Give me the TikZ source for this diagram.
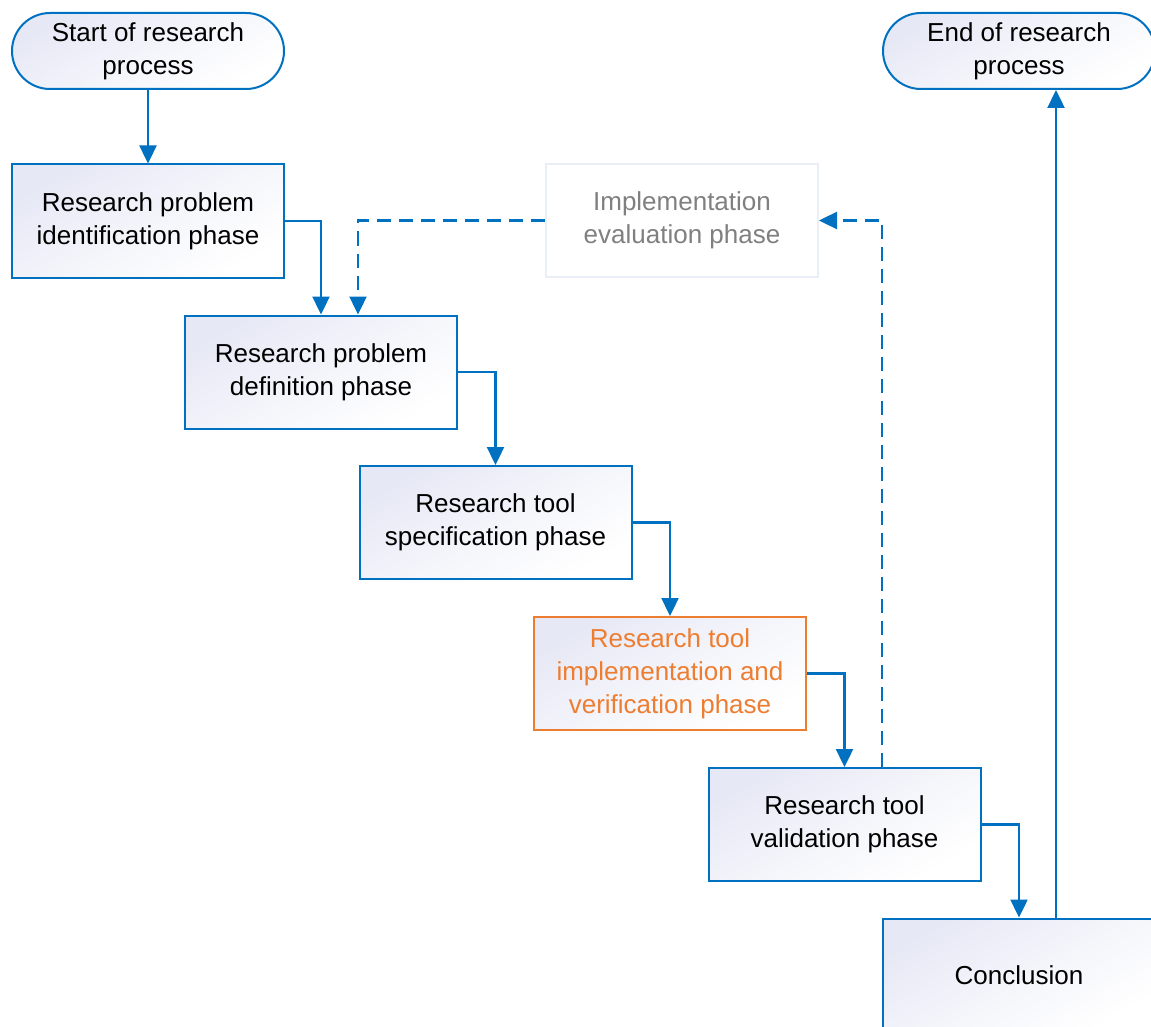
\documentclass[tikz,border=0pt]{standalone}
\usepackage{fontspec}
\setmainfont{Liberation Sans}
\usetikzlibrary{arrows.meta,positioning}
\definecolor{bl}{RGB}{0,112,192}
\definecolor{orng}{RGB}{237,125,49}
\definecolor{lav}{RGB}{230,232,245}
\definecolor{faint}{RGB}{234,239,247}
\definecolor{gtxt}{RGB}{128,128,128}
\begin{document}
\begin{tikzpicture}[x=1pt,y=-1pt,
  plain/.style={line width=2pt, minimum width=272pt, minimum height=113pt, inner sep=0pt,
     align=center, font=\fontsize{26}{33}\selectfont},
  base/.style={plain, draw=bl, top color=lav, bottom color=white, middle color=white!55!lav, shading angle=30},
  term/.style={base, minimum height=76pt, rounded corners=38pt},
  phase/.style={base},
  arr/.style={draw=bl, line width=2.4pt, -{Triangle[length=18pt,width=17pt]}},
  darr/.style={arr, dash pattern=on 14pt off 8pt}]
\useasboundingbox (0,0) rectangle (1151,1027);
\clip (0,0) rectangle (1151,1027);
\node[term] (start) at (148,51) {Start of research\\process};
\node[term] (endt) at (1019,51) {End of research\\process};
\node[phase] (b1) at (148,221) {Research problem\\identification phase};
\node[phase] (b2) at (321,372) {Research problem\\definition phase};
\node[phase] (b3) at (495.5,522.5) {Research tool\\specification phase};
\node[phase, draw=orng, text=orng] (b4) at (670,673.5) {Research tool\\implementation and\\verification phase};
\node[phase] (b5) at (844.5,824.5) {Research tool\\validation phase};
\node[phase] (conc) at (1019,975) {Conclusion};
\node[plain, draw=faint, fill=white, text=gtxt] (ev) at (682,220.5) {Implementation\\evaluation phase};
\draw[arr] (start.south) -- (b1.north);
\draw[arr] (b1.east) -| (b2.north);
\draw[arr] (b2.east) -| (b3.north);
\draw[arr] (b3.east) -| (b4.north);
\draw[arr] (b4.east) -| (b5.north);
\draw[arr] (b5.east) -| (conc.north);
\coordinate (cu) at ([xshift=37pt]conc.north);
\draw[arr] (cu) -- (cu |- endt.south);
\coordinate (du) at ([xshift=37.5pt]b5.north);
\draw[darr] (du) |- (ev.east);
\coordinate (dd) at ([xshift=37pt]b2.north);
\draw[darr] (ev.west) -| (dd);
\end{tikzpicture}
\end{document}
